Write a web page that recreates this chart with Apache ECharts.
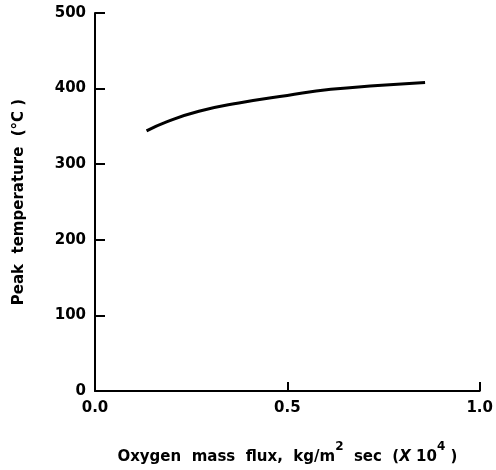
<!DOCTYPE html>
<html>
<head>
<meta charset="utf-8">
<script src="https://cdn.jsdelivr.net/npm/echarts@6/dist/echarts.min.js"></script>
<style>
    html, body { margin: 0; padding: 0; background: #fff; }
    #chart { width: 496px; height: 470px; }
</style>
</head>
<body>
<div id="chart"></div>
<script>
// oxygen mass flux (x 10^4 kg/m2 sec) and peak temperature (°C)
const flux = [0.134, 0.186, 0.27, 0.374, 0.5, 0.613, 0.735, 0.858];
const peakTemp = [344, 356, 370, 381, 391, 399, 404, 408];
const xTicks = [0.0, 0.5, 1.0];
const yTicks = [0, 100, 200, 300, 400, 500];

const font = "DejaVu Sans";
var chart = echarts.init(document.getElementById('chart'));
var option = {
    animation: false,
    grid: {
        left: 95,
        right: 13,
        top: 13,
        bottom: 75,
    },
    xAxis: {
        type: 'value',
        min: xTicks[0],
        max: xTicks[xTicks.length - 1],
        interval: 0.5,
        name: '{t|Oxygen  mass  flux,  kg/m}{s|2}{t|  sec  (}{i|X}{t| 10}{s|4}{t| )}',
        nameLocation: 'middle',
        nameGap: 50,
        nameTextStyle: {
            rich: {
                t: { fontFamily: font, fontSize: 15, fontWeight: 'bold', color: '#000', verticalAlign: 'bottom' },
                s: { fontFamily: font, fontSize: 12, fontWeight: 'bold', color: '#000', verticalAlign: 'top', padding: [0, 0, 12, 0] },
                i: { fontFamily: font, fontSize: 15, fontWeight: 'bold', color: '#000', fontStyle: 'italic', verticalAlign: 'bottom' },
            },
        },
        axisLine: { onZero: false, lineStyle: { color: '#000', width: 2 } },
        axisTick: { inside: true, length: 9, lineStyle: { color: '#000', width: 2 } },
        axisLabel: {
            color: '#000',
            fontFamily: font,
            fontSize: 15,
            fontWeight: 'bold',
            margin: 10,
            formatter: v => v.toFixed(1),
        },
        splitLine: { show: false },
    },
    yAxis: {
        type: 'value',
        min: yTicks[0],
        max: yTicks[yTicks.length - 1],
        interval: 100,
        name: 'Peak  temperature  (°C )',
        nameLocation: 'middle',
        nameGap: 68,
        nameTextStyle: { color: '#000', fontFamily: font, fontSize: 15, fontWeight: 'bold' },
        axisLine: { show: true, lineStyle: { color: '#000', width: 2 } },
        axisTick: { show: true, inside: true, length: 10, lineStyle: { color: '#000', width: 2 } },
        axisLabel: { color: '#000', fontFamily: font, fontSize: 15, fontWeight: 'bold', margin: 9 },
        splitLine: { show: false },
    },
    series: [
        {
            type: 'line',
            data: flux.map((x, i) => [x, peakTemp[i]]),
            smooth: true,
            showSymbol: false,
            lineStyle: { color: '#000', width: 3 },
        },
    ],
};
chart.setOption(option);
</script>
</body>
</html>
